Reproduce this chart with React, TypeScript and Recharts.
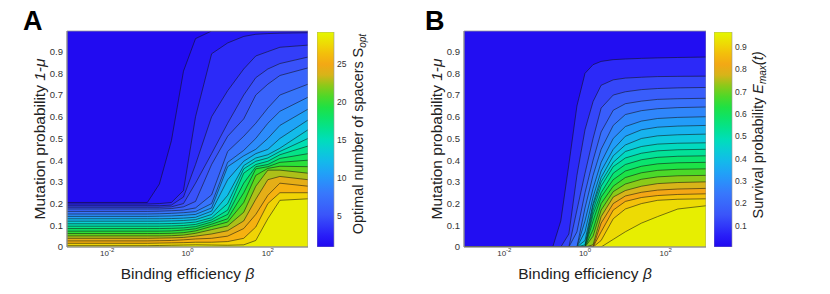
import { AreaChart, Area, XAxis, YAxis, CartesianGrid, ReferenceArea, BarChart, Bar } from "recharts";

// log10(beta) at the sampled columns, panel A
const betaA = [-3, -1.0, -0.7, -0.4, -0.1, 0.2, 0.6, 1.0, 1.4, 1.7, 2.0, 2.3, 3];
// S_opt contour levels
const levelsA = [1.5, 2.5, 3.5, 4.5, 5.5, 7, 8.5, 10, 11.5, 13, 14.5, 16, 17.5, 19, 20.5, 22, 23.5, 25, 26.5, 28];
// 1-mu where S_opt crosses each level, one row per level
const contourA = [
  [0.205, 0.205, 0.29, 0.49, 0.81, 0.96, 0.995, 0.995, 0.995, 0.995, 0.995, 0.995, 0.995],
  [0.198, 0.198, 0.2, 0.205, 0.26, 0.6, 0.89, 0.94, 0.97, 0.98, 0.983, 0.985, 0.987],
  [0.19, 0.19, 0.19, 0.193, 0.23, 0.38, 0.6, 0.72, 0.82, 0.88, 0.9, 0.92, 0.93],
  [0.183, 0.183, 0.183, 0.185, 0.2, 0.294, 0.43, 0.57, 0.7, 0.78, 0.82, 0.845, 0.875],
  [0.175, 0.175, 0.175, 0.177, 0.185, 0.21, 0.38, 0.51, 0.59, 0.7, 0.75, 0.79, 0.825],
  [0.164, 0.164, 0.165, 0.167, 0.17, 0.18, 0.24, 0.44, 0.51, 0.57, 0.64, 0.7, 0.75],
  [0.152, 0.152, 0.153, 0.155, 0.158, 0.163, 0.2, 0.39, 0.445, 0.5, 0.57, 0.625, 0.69],
  [0.141, 0.141, 0.142, 0.143, 0.146, 0.15, 0.18, 0.37, 0.42, 0.45, 0.5, 0.56, 0.635],
  [0.13, 0.13, 0.13, 0.131, 0.133, 0.137, 0.165, 0.31, 0.395, 0.43, 0.45, 0.5, 0.585],
  [0.119, 0.119, 0.119, 0.12, 0.122, 0.126, 0.15, 0.238, 0.375, 0.41, 0.425, 0.455, 0.54],
  [0.107, 0.107, 0.107, 0.108, 0.11, 0.115, 0.135, 0.2, 0.36, 0.395, 0.41, 0.44, 0.5],
  [0.096, 0.096, 0.096, 0.097, 0.099, 0.104, 0.125, 0.17, 0.34, 0.38, 0.395, 0.425, 0.465],
  [0.085, 0.085, 0.085, 0.086, 0.088, 0.094, 0.115, 0.15, 0.294, 0.37, 0.38, 0.408, 0.43],
  [0.073, 0.073, 0.073, 0.074, 0.078, 0.084, 0.105, 0.13, 0.25, 0.36, 0.37, 0.39, 0.4],
  [0.062, 0.062, 0.062, 0.063, 0.066, 0.074, 0.095, 0.115, 0.205, 0.33, 0.362, 0.372, 0.37],
  [0.051, 0.051, 0.051, 0.052, 0.055, 0.063, 0.08, 0.097, 0.16, 0.28, 0.354, 0.354, 0.34],
  [0.04, 0.04, 0.041, 0.042, 0.044, 0.05, 0.06, 0.075, 0.12, 0.22, 0.31, 0.325, 0.31],
  [0.028, 0.028, 0.029, 0.03, 0.033, 0.037, 0.04, 0.05, 0.085, 0.15, 0.238, 0.294, 0.28],
  [0.017, 0.017, 0.018, 0.019, 0.02, 0.022, 0.022, 0.025, 0.04, 0.092, 0.2, 0.25, 0.25],
  [0.006, 0.006, 0.007, 0.008, 0.009, 0.01, 0.009, 0.008, 0.01, 0.03, 0.13, 0.215, 0.222],
];

// panel B: survival probability
const betaB = [-3, -0.8, -0.6, -0.4, -0.2, 0, 0.2, 0.4, 0.7, 1.0, 1.4, 1.8, 2.3, 3];
const levelsB = [0.05, 0.1, 0.15, 0.2, 0.25, 0.3, 0.35, 0.4, 0.45, 0.5, 0.55, 0.6, 0.65, 0.7, 0.75, 0.8, 0.85, 0.9, 0.93];
const contourB = [
  [0, 0, 0.12, 0.38, 0.65, 0.8, 0.84, 0.855, 0.863, 0.866, 0.869, 0.871, 0.873, 0.875],
  [0, 0, 0, 0.06, 0.33, 0.54, 0.67, 0.745, 0.77, 0.778, 0.782, 0.785, 0.786, 0.787],
  [0, 0, 0, 0, 0.17, 0.34, 0.5, 0.64, 0.7, 0.715, 0.725, 0.73, 0.733, 0.735],
  [0, 0, 0, 0, 0.07, 0.25, 0.4, 0.53, 0.63, 0.66, 0.672, 0.68, 0.683, 0.685],
  [0, 0, 0, 0, 0, 0.18, 0.33, 0.45, 0.56, 0.61, 0.628, 0.637, 0.642, 0.645],
  [0, 0, 0, 0, 0, 0.12, 0.27, 0.39, 0.5, 0.555, 0.58, 0.592, 0.597, 0.6],
  [0, 0, 0, 0, 0, 0.07, 0.23, 0.35, 0.45, 0.51, 0.54, 0.552, 0.557, 0.56],
  [0, 0, 0, 0, 0, 0.03, 0.2, 0.32, 0.42, 0.47, 0.5, 0.512, 0.517, 0.52],
  [0, 0, 0, 0, 0, 0.01, 0.19, 0.3, 0.39, 0.44, 0.463, 0.474, 0.478, 0.48],
  [0, 0, 0, 0, 0, 0, 0.17, 0.28, 0.37, 0.41, 0.432, 0.443, 0.448, 0.45],
  [0, 0, 0, 0, 0, 0, 0.15, 0.25, 0.34, 0.38, 0.402, 0.413, 0.418, 0.42],
  [0, 0, 0, 0, 0, 0, 0.12, 0.23, 0.31, 0.35, 0.372, 0.383, 0.388, 0.39],
  [0, 0, 0, 0, 0, 0, 0.08, 0.2, 0.28, 0.32, 0.342, 0.353, 0.358, 0.36],
  [0, 0, 0, 0, 0, 0, 0.05, 0.17, 0.255, 0.29, 0.312, 0.323, 0.328, 0.33],
  [0, 0, 0, 0, 0, 0, 0.01, 0.14, 0.23, 0.26, 0.28, 0.292, 0.297, 0.3],
  [0, 0, 0, 0, 0, 0, 0, 0.11, 0.2, 0.235, 0.252, 0.262, 0.267, 0.27],
  [0, 0, 0, 0, 0, 0, 0, 0.07, 0.17, 0.21, 0.228, 0.237, 0.242, 0.245],
  [0, 0, 0, 0, 0, 0, 0, 0.03, 0.13, 0.175, 0.2, 0.215, 0.22, 0.222],
  [0, 0, 0, 0, 0, 0, 0, 0, 0.035, 0.07, 0.11, 0.14, 0.175, 0.19],
];

const xTicks = [-2, 0, 2];
const yTicks = [0, 0.1, 0.2, 0.3, 0.4, 0.5, 0.6, 0.7, 0.8, 0.9];
const barTicksA = [5, 10, 15, 20, 25];
const barTicksB = [0.1, 0.2, 0.3, 0.4, 0.5, 0.6, 0.7, 0.8, 0.9];

// colormap
const cmapPos = [0, 0.05, 0.15, 0.25, 0.33, 0.42, 0.5, 0.58, 0.66, 0.73, 0.8, 0.86, 0.93, 1];
const cmapRgb = [
  [32, 8, 240], [40, 28, 248], [58, 85, 250], [55, 120, 252], [35, 155, 250], [15, 195, 230], [0, 222, 185],
  [5, 228, 120], [35, 225, 60], [110, 210, 25], [215, 180, 25], [248, 165, 20], [240, 210, 5], [228, 248, 0],
];

function colorAt(t: number) {
  const u = Math.min(1, Math.max(0, t));
  let i = 0;
  while (i < cmapPos.length - 2 && u > cmapPos[i + 1]) i++;
  const f = (u - cmapPos[i]) / (cmapPos[i + 1] - cmapPos[i]);
  const c = cmapRgb[i].map((v, k) => Math.round(v + (cmapRgb[i + 1][k] - v) * f));
  return `rgb(${c[0]},${c[1]},${c[2]})`;
}

const PowTick = ({ x, y, payload }: any) => (
  <text x={x} y={y + 5} textAnchor="middle" fontSize={8} fill="#333">
    10<tspan dy={-4} fontSize={6}>{payload.value}</tspan>
  </text>
);

function ContourPanel({ left, width, beta, levels, contour, min, max }: any) {
  const rows = beta.map((x: number, j: number) => {
    const r: Record<string, number> = { x };
    contour.forEach((ys: number[], i: number) => {
      r["c" + i] = ys[j];
    });
    return r;
  });
  const norm = (v: number) => (v - min) / (max - min);
  return (
    <div style={{ position: "absolute", left, top: 0 }}>
      <AreaChart width={width} height={294} data={rows} margin={{ top: 31, right: 0, bottom: 0, left: 0 }}>
        <CartesianGrid fill={colorAt(norm(levels[0]) * 0.3)} horizontal={false} vertical={false} />
        <XAxis
          type="number"
          dataKey="x"
          domain={[-3, 3]}
          ticks={xTicks}
          tick={<PowTick />}
          tickLine={false}
          tickSize={2}
          tickMargin={2}
          height={47}
          axisLine={{ stroke: "#888" }}
          allowDataOverflow
        />
        <YAxis
          type="number"
          domain={[0, 0.995]}
          ticks={yTicks}
          width={67}
          tickLine={false}
          tickSize={2}
          tickMargin={2}
          tickFormatter={(v: number) => (v === 0 ? "0" : v.toFixed(1))}
          tick={{ fontSize: 9.5, fill: "#333" }}
          axisLine={{ stroke: "#888" }}
          allowDataOverflow
        />
        {contour.map((_: number[], i: number) => {
          const hi = i < levels.length - 1 ? levels[i + 1] : max;
          return (
            <Area
              key={i}
              type="linear"
              dataKey={"c" + i}
              fill={colorAt(norm((levels[i] + hi) / 2))}
              fillOpacity={1}
              stroke="#111"
              strokeWidth={0.55}
              dot={false}
              activeDot={false}
              isAnimationActive={false}
            />
          );
        })}
        <ReferenceArea x1={-3} x2={3} y1={0} y2={0.995} fill="none" stroke="#999" strokeWidth={0.8} ifOverflow="visible" />
      </AreaChart>
    </div>
  );
}

function ColorBar({ id, left, barWidth, min, max, ticks }: any) {
  const stops = Array.from({ length: 21 }, (_, i) => i / 20);
  return (
    <div style={{ position: "absolute", left, top: 0 }}>
      <BarChart
        width={barWidth + 40}
        height={294}
        data={[{ k: "c", v: [min, max] }]}
        margin={{ top: 32, right: 0, bottom: 47, left: 0 }}
        barCategoryGap={0}
      >
        <defs>
          <linearGradient id={id} x1="0" y1="1" x2="0" y2="0">
            {stops.map((s) => (
              <stop key={s} offset={s} stopColor={colorAt(s)} />
            ))}
          </linearGradient>
        </defs>
        <XAxis dataKey="k" hide />
        <YAxis
          orientation="right"
          type="number"
          domain={[min, max]}
          ticks={ticks}
          width={40}
          tickLine={false}
          axisLine={false}
          tickSize={0}
          tickMargin={3}
          tick={{ fontSize: 8.5, fill: "#333", textAnchor: "start" }}
          allowDataOverflow
        />
        <Bar dataKey="v" fill={`url(#${id})`} stroke="#999" strokeWidth={0.6} isAnimationActive={false} />
      </BarChart>
    </div>
  );
}

export default function App() {
  return (
    <div
      style={{
        position: "fixed",
        left: 0,
        top: 0,
        width: 830,
        height: 294,
        background: "#fff",
        fontFamily: "'Liberation Sans', Arial, sans-serif",
      }}
    >
      <ContourPanel left={0} width={308} beta={betaA} levels={levelsA} contour={contourA} min={0.9} max={29.2} />
      <ColorBar id="cbA" left={317} barWidth={17} min={0.9} max={29.2} ticks={barTicksA} />
      <ContourPanel left={397} width={309} beta={betaB} levels={levelsB} contour={contourB} min={0.005} max={0.966} />
      <ColorBar id="cbB" left={714} barWidth={18} min={0.005} max={0.966} ticks={barTicksB} />

      <svg width={830} height={294} style={{ position: "absolute", left: 0, top: 0, pointerEvents: "none" }}>
        <g fill="#000" fontWeight="bold" fontSize={27}>
          <text x={23} y={30}>A</text>
          <text x={425} y={30}>B</text>
        </g>
        <g fill="#222" fontSize={15.5} textAnchor="middle">
          <text x={187.5} y={279}>
            Binding efficiency <tspan fontStyle="italic">β</tspan>
          </text>
          <text x={585} y={279}>
            Binding efficiency <tspan fontStyle="italic">β</tspan>
          </text>
          <text x={44.5} y={139} transform="rotate(-90 44.5 139)">
            Mutation probability <tspan fontStyle="italic">1-μ</tspan>
          </text>
          <text x={442} y={139} transform="rotate(-90 442 139)">
            Mutation probability <tspan fontStyle="italic">1-μ</tspan>
          </text>
        </g>
        <g fill="#222" fontSize={14.4} textAnchor="middle">
          <text x={363} y={134} transform="rotate(-90 363 134)">
            Optimal number of spacers S<tspan dy={3} fontSize={10} fontStyle="italic">opt</tspan>
          </text>
          <text x={763} y={135} transform="rotate(-90 763 135)">
            Survival probability <tspan fontStyle="italic">E</tspan>
            <tspan dy={3} fontSize={10} fontStyle="italic">max</tspan>
            <tspan dy={-3} fontStyle="italic">(t)</tspan>
          </text>
        </g>
      </svg>
    </div>
  );
}
